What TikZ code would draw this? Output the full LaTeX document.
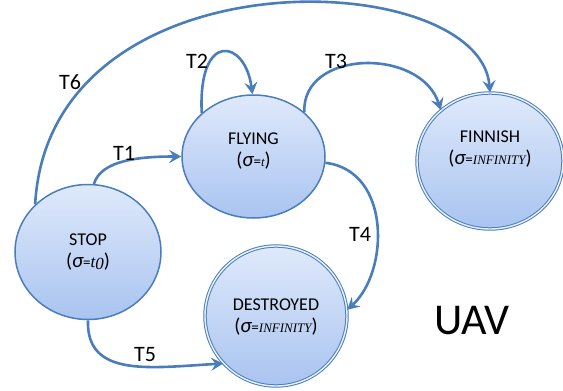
\documentclass[tikz,border=0pt]{standalone}
\usepackage{fontspec}
\setmainfont{Carlito}
\newfontfamily\serifit{Liberation Serif}
\usetikzlibrary{shapes.geometric,arrows.meta}
\definecolor{edgec}{HTML}{4A7EBB}
\definecolor{topc}{HTML}{DFE9FB}
\definecolor{botc}{HTML}{A9C4F0}
\definecolor{bord}{HTML}{4A7EBB}
\newcommand{\mysig}{{\itshape\fontsize{21}{22}\selectfont σ}}
\newcommand{\myeq}{{\fontsize{15}{16}\selectfont=}}
\newcommand{\myinf}{{\serifit\itshape\fontsize{13}{14}\selectfont INFINITY}}
\newcommand{\lp}{{\fontsize{20}{22}\selectfont(}}
\newcommand{\rp}{{\fontsize{20}{22}\selectfont)}}
\tikzset{
  state/.style={ellipse, draw=bord, line width=1.5pt, top color=topc, bottom color=botc,
    inner sep=0pt},
  final/.style={state, line width=1pt, double=white!40!topc, double distance=1.4pt},
  stxt/.style={align=center, font=\fontsize{18}{22}\selectfont, inner sep=0pt},
  trans/.style={draw=edgec, line width=2.6pt, -{Stealth[length=12pt,width=13pt,inset=4.5pt]}},
  lab/.style={font=\fontsize{22}{24}\selectfont, inner sep=0pt}
}
\begin{document}
\begin{tikzpicture}[x=1pt,y=-1pt]
\useasboundingbox (0,0) rectangle (563,391);
\node[state, minimum width=146pt, minimum height=135pt,
  label={[stxt, name=stoptxt, yshift=0pt]center:STOP\\\lp\mysig\myeq{\serifit\itshape\fontsize{17}{18}\selectfont t\raisebox{-2pt}{0}}\rp}]
  (stop) at (88,252) {};
\node[state, minimum width=143pt, minimum height=123pt,
  label={[stxt, name=flytxt, yshift=5pt]center:FLYING\\\lp\mysig\myeq{\serifit\itshape\fontsize{13}{14}\selectfont t}\rp}]
  (fly) at (253.5,156.5) {};
\node[final, minimum width=146pt, minimum height=136pt,
  label={[stxt, name=fintxt, yshift=12pt]center:FINNISH\\\lp\mysig\myeq\myinf\rp}]
  (fin) at (490,161) {};
\node[final, minimum width=142pt, minimum height=140pt,
  label={[stxt, name=desttxt, yshift=-1pt]center:DESTROYED\\\lp\mysig\myeq\myinf\rp}]
  (dest) at (276,316) {};

\draw[trans] (stop.85) .. controls +(7,-24) and +(-41,0) .. (fly.180);
\draw[trans] (fly.140) .. controls +(-4,-83) and +(-7,-55) .. (fly.91);
\draw[trans] (fly.41) .. controls +(-3,-63) and +(-20,-63) .. (fin.134);
\draw[trans] (fly.-5) .. controls +(66,8) and +(42,-38) .. (dest.5);
\draw[trans] (stop.-90) .. controls +(-2,58) and +(-72,4) .. (dest.222);
\draw[trans] (stop.138) .. controls +(14,-255) and +(-10,-127) .. (fin.90);

\node[lab] (t1) at (124,153) {T1};
\node[lab] (t2) at (197,61) {T2};
\node[lab] (t3) at (336,61) {T3};
\node[lab] (t4) at (360,234) {T4};
\node[lab] (t5) at (145,355) {T5};
\node[lab] (t6) at (70,82) {T6};
\node[font=\fontsize{44}{48}\selectfont, inner sep=0pt] (uav) at (472,321) {UAV};
\end{tikzpicture}
\end{document}
